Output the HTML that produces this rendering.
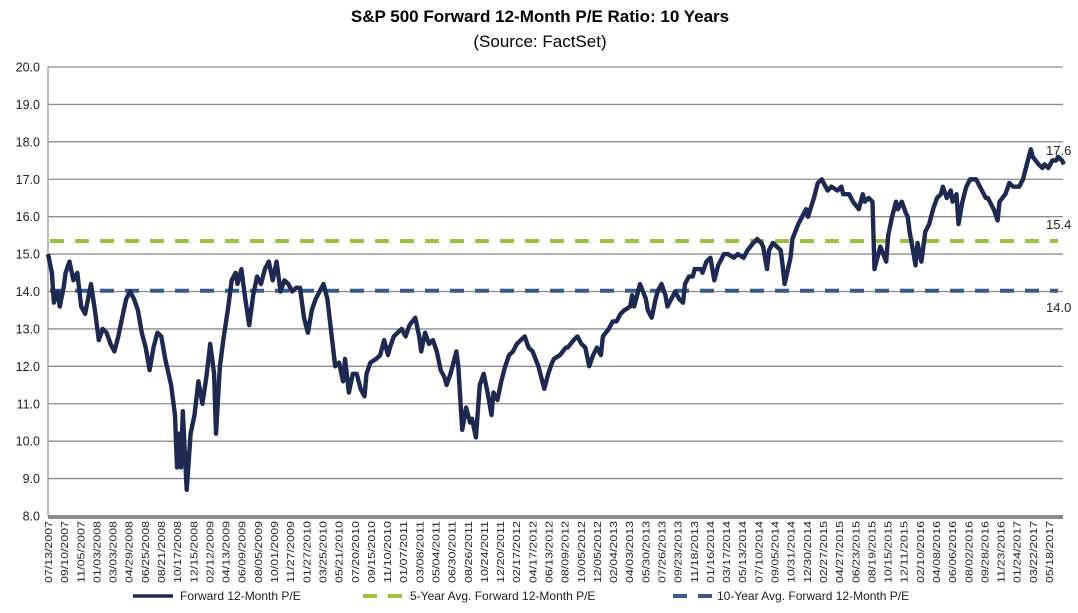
<!DOCTYPE html>
<html><head><meta charset="utf-8"><style>
body{margin:0;background:#fff;width:1078px;height:608px;overflow:hidden;font-family:"Liberation Sans",Arial,sans-serif}
</style></head><body>
<svg id="chart" width="1078" height="608" xmlns="http://www.w3.org/2000/svg" font-family="Liberation Sans, Arial, sans-serif">
<text x="540" y="22" text-anchor="middle" font-size="17" font-weight="bold" fill="#000">S&amp;P 500 Forward 12-Month P/E Ratio: 10 Years</text>
<text x="540" y="47" text-anchor="middle" font-size="17" fill="#000">(Source: FactSet)</text>
<g id="grid"></g><g id="yticks"></g><g id="xticks"></g><g id="series"></g><g id="legend"></g>
</svg>
<script>
const yTicks=[8,9,10,11,12,13,14,15,16,17,18,19,20];
const xLabels=["07/13/2007","09/10/2007","11/05/2007","01/03/2008","03/03/2008","04/29/2008","06/25/2008","08/21/2008","10/17/2008","12/15/2008","02/12/2009","04/13/2009","06/09/2009","08/05/2009","10/01/2009","11/27/2009","01/27/2010","03/25/2010","05/21/2010","07/20/2010","09/15/2010","11/10/2010","01/07/2011","03/08/2011","05/04/2011","06/30/2011","08/26/2011","10/24/2011","12/20/2011","02/17/2012","04/17/2012","06/13/2012","08/09/2012","10/05/2012","12/05/2012","02/04/2013","04/03/2013","05/30/2013","07/26/2013","09/23/2013","11/18/2013","01/16/2014","03/17/2014","05/13/2014","07/10/2014","09/05/2014","10/31/2014","12/30/2014","02/27/2015","04/27/2015","06/23/2015","08/19/2015","10/15/2015","12/11/2015","02/10/2016","04/08/2016","06/06/2016","08/02/2016","09/28/2016","11/23/2016","01/24/2017","03/22/2017","05/18/2017"];
const weeks=[0,2,3,5,6,8,9,11,13,15,17,19,22,24,26,28,30,32,34,36,38,40,42,44,46,48,50,52,54,56,58,60,63,65,66,67,68,69,70,71,73,75,77,79,81,83,85,86,88,90,92,94,96,97,99,101,103,105,107,109,111,113,115,117,119,121,123,125,127,129,131,133,135,137,139,141,143,145,147,149,151,152,154,156,158,160,162,163,165,168,170,172,174,175,177,179,181,183,185,188,190,191,193,195,197,199,201,203,204,206,209,210,212,214,216,217,219,221,223,225,227,228,230,232,234,236,238,240,242,244,246,248,251,253,254,256,258,259,262,265,266,269,271,273,275,277,279,281,283,284,287,289,291,293,295,298,299,300,302,303,306,307,309,311,312,314,316,317,319,321,323,325,326,328,330,331,334,335,337,339,341,343,346,348,351,353,356,358,361,363,365,366,368,369,371,373,375,376,377,380,381,384,385,388,389,392,394,396,398,399,401,404,406,407,410,412,415,417,418,420,422,423,424,426,429,430,432,434,435,437,439,440,441,443,444,445,447,449,451,453,455,457,458,460,462,463,465,466,468,470,472,475,476,478,480,481,483,484,486,487,490,492,494,497,499,500,503,504,507,509,510,512,514,516,517,519,520];
const peValues=[15.0,14.5,13.7,14.0,13.6,14.1,14.5,14.8,14.3,14.5,13.6,13.4,14.2,13.5,12.7,13.0,12.9,12.6,12.4,12.8,13.3,13.8,14.0,13.8,13.5,12.9,12.5,11.9,12.5,12.9,12.8,12.2,11.5,10.7,9.3,10.2,9.3,10.8,9.7,8.7,10.2,10.7,11.6,11.0,11.7,12.6,11.8,10.2,12.0,12.8,13.5,14.3,14.5,14.2,14.6,13.8,13.1,13.9,14.4,14.2,14.6,14.8,14.3,14.8,14.0,14.3,14.2,14.0,14.1,14.1,13.3,12.9,13.5,13.8,14.0,14.2,13.8,12.9,12.0,12.1,11.6,12.2,11.3,11.8,11.8,11.4,11.2,11.8,12.1,12.2,12.3,12.7,12.3,12.5,12.8,12.9,13.0,12.8,13.1,13.3,12.8,12.4,12.9,12.6,12.7,12.4,11.9,11.7,11.5,11.8,12.4,12.0,10.3,10.9,10.5,10.6,10.1,11.5,11.8,11.3,10.7,11.3,11.1,11.6,12.0,12.3,12.4,12.6,12.7,12.8,12.5,12.4,12.0,11.6,11.4,11.8,12.1,12.2,12.3,12.5,12.5,12.7,12.8,12.6,12.5,12.0,12.3,12.5,12.3,12.8,13.0,13.2,13.2,13.4,13.5,13.6,13.9,13.6,14.0,14.2,13.8,13.5,13.3,13.8,14.0,14.2,13.9,13.6,13.8,14.0,13.8,13.7,14.2,14.4,14.4,14.6,14.6,14.5,14.8,14.9,14.3,14.7,15.0,15.0,14.9,15.0,14.9,15.1,15.3,15.4,15.3,15.2,14.6,15.1,15.3,15.2,15.1,14.7,14.2,14.9,15.4,15.8,15.9,16.2,16.0,16.5,16.9,17.0,16.8,16.7,16.8,16.7,16.8,16.6,16.6,16.4,16.2,16.6,16.4,16.5,16.4,14.6,14.8,15.2,14.8,15.5,16.0,16.4,16.2,16.4,16.1,16.0,15.6,15.0,14.7,15.3,14.8,15.6,15.8,16.2,16.5,16.6,16.8,16.5,16.7,16.4,16.6,15.8,16.4,16.8,17.0,17.0,16.9,16.7,16.5,16.5,16.3,16.2,15.9,16.4,16.6,16.9,16.8,16.8,17.0,17.2,17.8,17.6,17.4,17.3,17.4,17.3,17.5,17.5,17.6,17.5,17.4,17.5];
const avg5=15.35, avg10=14.02;
const avgLabels=["17.6","15.4","14.0"];
const legendNames=["Forward 12-Month P/E","5-Year Avg. Forward 12-Month P/E","10-Year Avg. Forward 12-Month P/E"];

const NS="http://www.w3.org/2000/svg";
const L=48,R=1063,T=67,B=516,W0=0,W1=520;
const yS=v=>B-(v-8)/(20-8)*(B-T);
const xS=w=>L+(w-W0)/(W1-W0)*(R-L+1);
function mk(tag,attrs,parent){const e=document.createElementNS(NS,tag);for(const k in attrs)e.setAttribute(k,attrs[k]);parent.appendChild(e);return e;}
const grid=document.getElementById('grid'),yt=document.getElementById('yticks'),xt=document.getElementById('xticks'),ser=document.getElementById('series'),leg=document.getElementById('legend');
yTicks.forEach(v=>{
  if(v>8){const g=mk('line',{x1:L,x2:R,y1:yS(v),y2:yS(v),stroke:'#8c8c8c','stroke-width':1.3},grid);
  
  }
  const t=mk('text',{x:L-8,y:yS(v)+4.5,'text-anchor':'end','font-size':12.5,fill:'#222'},yt);t.textContent=v.toFixed(1);
  
  
});
const ya=mk('line',{x1:L,x2:L,y1:T,y2:B,stroke:'#999','stroke-width':1.3},grid);


const xa=mk('line',{x1:L,x2:R,y1:B+1,y2:B+1,stroke:'#8c8c8c','stroke-width':4},grid);


xLabels.forEach((s,i)=>{
  const x=L+4+i*(R-L-14)/(xLabels.length-1);
  const t=mk('text',{transform:`translate(${x},521) rotate(-90)`,'text-anchor':'end','font-size':10.5,fill:'#222','textLength':62,'lengthAdjust':'spacingAndGlyphs'},xt);t.textContent=s;
  
  
});
const g5=mk('line',{x1:L+2,x2:R-5,y1:yS(avg5),y2:yS(avg5),stroke:'#99c33c','stroke-width':4,'stroke-dasharray':'14 11'},ser);


const g10=mk('line',{x1:L+2,x2:R-5,y1:yS(avg10),y2:yS(avg10),stroke:'#3a5a8c','stroke-width':4,'stroke-dasharray':'14 11'},ser);


const pts=weeks.map((w,i)=>xS(w).toFixed(1)+','+yS(peValues[i]).toFixed(1)).join(' ');
const pl=mk('polyline',{points:pts,fill:'none',stroke:'#1c2951','stroke-width':4.4,'stroke-linejoin':'round'},ser);


[[yS(17.6)-2,avgLabels[0]],[yS(avg5)-12,avgLabels[1]],[yS(avg10)+21,avgLabels[2]]].forEach(([y,s])=>{
  const t=mk('text',{x:1046,y:y,'font-size':13,fill:'#222'},ser);t.textContent=s;
  
  
});
const legDefs=[[133,173,180,'#1c2951',null],[363,403,410,'#99c33c','14 11'],[673,712,717,'#3a5a8c','14 11']];
legDefs.forEach(([a,b,tx,c,d],i)=>{
  const ln=mk('line',{x1:a,x2:b,y1:596,y2:596,stroke:c,'stroke-width':d?4:3.5},leg);
  if(d)ln.setAttribute('stroke-dasharray',d);
  
  
  const t=mk('text',{x:tx,y:600,'font-size':12,fill:'#222'},leg);t.textContent=legendNames[i];
  
  
});
</script>
</body></html>
